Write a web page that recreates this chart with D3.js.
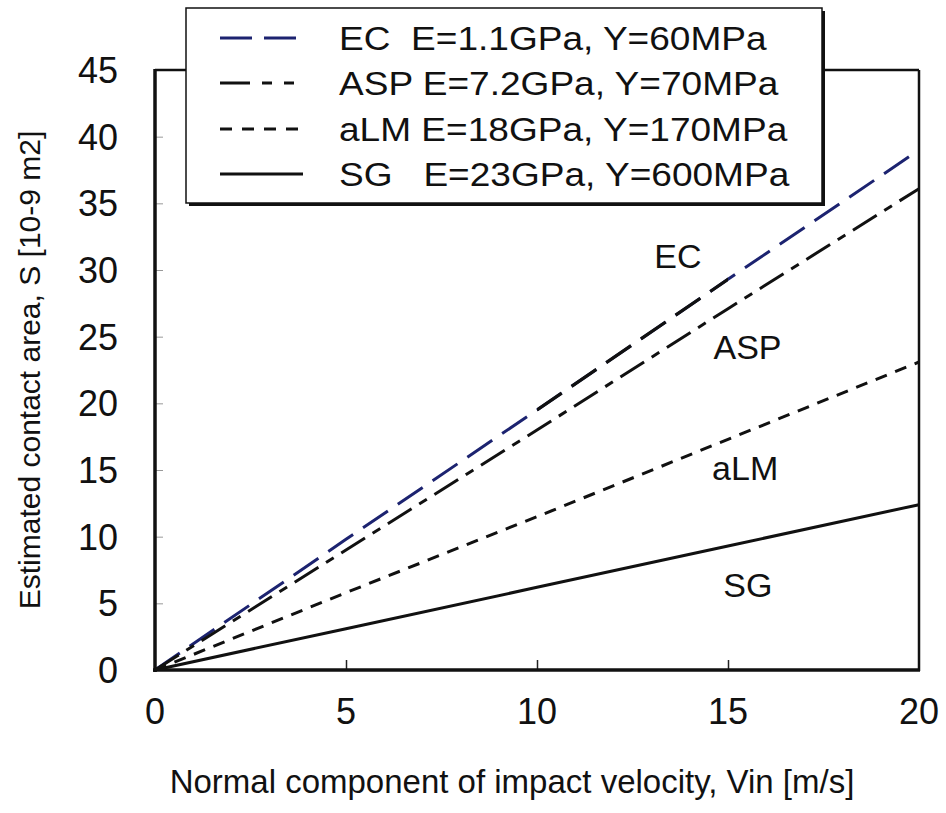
<!DOCTYPE html>
<html><head><meta charset="utf-8">
<script src="https://cdn.jsdelivr.net/npm/d3@7/dist/d3.min.js"></script>
<style>body{margin:0;background:#fff}svg{display:block}text{font-family:"Liberation Sans",Arial,sans-serif;fill:#111}</style>
</head><body><svg id="c" width="946" height="813"></svg>
<script>
const velocity = [0, 5, 10, 15, 20];
const seriesNames = ["EC", "ASP", "aLM", "SG"];
const legendLabels = ["EC  E=1.1GPa, Y=60MPa", "ASP E=7.2GPa, Y=70MPa", "aLM E=18GPa, Y=170MPa", "SG   E=23GPa, Y=600MPa"];
const ecValues  = [0, 9.8, 19.5, 29.3, 39.0];
const aspValues = [0, 9.0, 18.0, 27.1, 36.1];
const almValues = [0, 5.8, 11.5, 17.3, 23.1];
const sgValues  = [0, 3.1, 6.2, 9.3, 12.4];
const ecBlackRange = [10, 15]; // part of the EC curve printed in black in the original
const xTicks = [0, 5, 10, 15, 20];
const yTicks = [0, 5, 10, 15, 20, 25, 30, 35, 40, 45];

const svg = d3.select("#c");
const x = d3.scaleLinear().domain([0, 20]).range([155, 919]);
const y = d3.scaleLinear().domain([0, 45]).range([670, 70]);

const styles = {
  EC:  {color:"#1c2370", dash:"30,12"},
  ASP: {color:"#111", dash:"28,9,9,9"},
  aLM: {color:"#111", dash:"12,9"},
  SG:  {color:"#111", dash:null}
};
const legendDash = {EC:"32,12", ASP:"30,12,10,12,10,12", aLM:"12,10", SG:null};
const seriesData = {EC: ecValues, ASP: aspValues, aLM: almValues, SG: sgValues};

// inner ticks
const yAxis = d3.axisRight(y).tickValues(yTicks.slice(1, -1)).tickSize(8).tickFormat("");
const gy = svg.append("g").attr("transform", "translate(155,0)").call(yAxis);
gy.select(".domain").remove();
gy.selectAll("line").attr("stroke", "#999").attr("stroke-width", 1);
const xAxis = d3.axisTop(x).tickValues(xTicks.slice(1, -1)).tickSize(10).tickFormat("");
const gx = svg.append("g").attr("transform", "translate(0,670)").call(xAxis);
gx.select(".domain").remove();
gx.selectAll("line").attr("stroke", "#222").attr("stroke-width", 1.5);

// tick labels
svg.append("g").selectAll("text").data(yTicks).join("text")
  .attr("x", 118).attr("y", d => y(d)).attr("dy", "0.36em")
  .attr("text-anchor", "end").attr("font-size", 36).text(d => d);
svg.append("g").selectAll("text").data(xTicks).join("text")
  .attr("x", d => x(d)).attr("y", 724)
  .attr("text-anchor", "middle").attr("font-size", 36).text(d => d);

// axis titles
svg.append("text").attr("x", 512).attr("y", 793).attr("text-anchor", "middle")
  .attr("font-size", 33).text("Normal component of impact velocity, Vin [m/s]");
svg.append("text").attr("transform", "translate(40,370) rotate(-90)").attr("text-anchor", "middle")
  .attr("font-size", 30).text("Estimated contact area, S [10-9 m2]");

// clip for black part of EC
svg.append("defs").append("clipPath").attr("id", "ecblack").append("rect")
  .attr("x", x(ecBlackRange[0])).attr("y", 0)
  .attr("width", x(ecBlackRange[1]) - x(ecBlackRange[0])).attr("height", 813);

// lines
const line = d3.line().x((d, i) => x(velocity[i])).y(d => y(d));
seriesNames.forEach(n => {
  svg.append("path").datum(seriesData[n]).attr("d", line)
    .attr("fill", "none").attr("stroke", styles[n].color).attr("stroke-width", 3)
    .attr("stroke-dasharray", styles[n].dash);
});
svg.append("path").datum(ecValues).attr("d", line).attr("clip-path", "url(#ecblack)")
  .attr("fill", "none").attr("stroke", "#111").attr("stroke-width", 3.2)
  .attr("stroke-dasharray", styles.EC.dash);

// frame
svg.append("line").attr("x1", 155).attr("x2", 919).attr("y1", 70).attr("y2", 70).attr("stroke", "#111").attr("stroke-width", 2.5);
svg.append("line").attr("x1", 919).attr("x2", 919).attr("y1", 70).attr("y2", 671).attr("stroke", "#111").attr("stroke-width", 2.5);
svg.append("line").attr("x1", 155).attr("x2", 155).attr("y1", 69).attr("y2", 672).attr("stroke", "#111").attr("stroke-width", 3.5);
svg.append("line").attr("x1", 153).attr("x2", 920).attr("y1", 670).attr("y2", 670).attr("stroke", "#111").attr("stroke-width", 3.5);

// annotations
const annot = [{n:"EC", v:13.69, s:31.1}, {n:"ASP", v:15.51, s:24.26}, {n:"aLM", v:15.45, s:15.2}, {n:"SG", v:15.52, s:6.4}];
svg.append("g").selectAll("text").data(annot).join("text")
  .attr("x", d => x(d.v)).attr("y", d => y(d.s)).attr("dy", "0.36em")
  .attr("text-anchor", "middle").attr("font-size", 34).text(d => d.n);

// legend
const lg = svg.append("g");
lg.append("rect").attr("x", 189).attr("y", 11).attr("width", 636).attr("height", 195).attr("fill", "#111");
lg.append("rect").attr("x", 186).attr("y", 8).attr("width", 636).attr("height", 195)
  .attr("fill", "#fff").attr("stroke", "#111").attr("stroke-width", 1.5);
const rowY = [38, 83, 129, 174];
seriesNames.forEach((n, i) => {
  lg.append("line").attr("x1", 220).attr("x2", 303).attr("y1", rowY[i]).attr("y2", rowY[i])
    .attr("stroke", styles[n].color).attr("stroke-width", 3).attr("stroke-dasharray", legendDash[n]);
  lg.append("text").attr("transform", `translate(339,${rowY[i]}) scale(1.09,1)`).attr("dy", "0.36em")
    .attr("font-size", 34).attr("xml:space", "preserve").style("white-space", "pre").text(legendLabels[i]);
});
</script></body></html>
